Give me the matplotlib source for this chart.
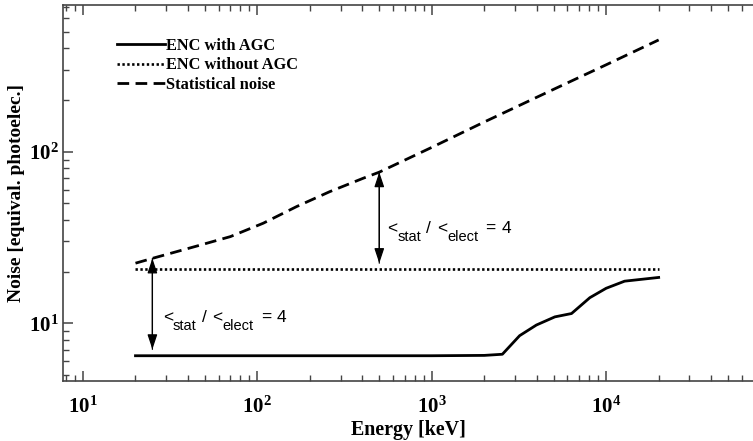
import matplotlib
matplotlib.use("Agg")
import matplotlib.pyplot as plt
from matplotlib.ticker import LogLocator, FixedLocator, FixedFormatter, NullFormatter

plt.rcParams['font.family'] = ['Liberation Serif', 'DejaVu Serif']
plt.rcParams['mathtext.fontset'] = 'custom'
plt.rcParams['mathtext.rm'] = 'Liberation Serif:bold'
plt.rcParams['mathtext.bf'] = 'Liberation Serif:bold'
plt.rcParams['mathtext.it'] = 'Liberation Serif:italic:bold'

# ---- data ----
energy_agc = [20, 100, 1000, 2000, 2540, 3190, 3980, 5080, 6330, 8060, 10000, 12760, 20000]
enc_agc = [6.47, 6.47, 6.47, 6.5, 6.6, 8.47, 9.77, 10.9, 11.4, 14.1, 16.0, 17.6, 18.5]

energy_noagc = [20, 20000]
enc_noagc = [20.7, 20.7]

energy_stat = [20, 25, 45, 70, 108, 168, 260, 404, 500, 1000, 2000, 5000, 10000, 20000]
stat_noise = [22.4, 23.9, 28.2, 32.0, 38.3, 47.9, 58.5, 70.0, 76.0, 106, 149, 231, 321, 448]

arrow_x = [25, 500]
arrow_top = [23.9, 76.0]
arrow_bottom = [7.05, 22.4]
label_pos = [(28.7, 10.2), (556, 33.6)]
# (text, is_subscript)
label_pieces = [('<', False), ('stat', True), ('/', False), ('<', False), ('elect', True), ('=', False), ('4', False)]

xtick_vals = [10, 100, 1000, 10000]
xtick_labels = [r'$\mathrm{10^{1}}$', r'$\mathrm{10^{2}}$', r'$\mathrm{10^{3}}$', r'$\mathrm{10^{4}}$']
ytick_vals = [10, 100]
ytick_labels = [r'$\mathrm{10^{1}}$', r'$\mathrm{10^{2}}$']

fig = plt.figure(figsize=(7.53, 4.41), dpi=100)
ax = fig.add_axes([63/753, 1-381/441, 1-63/753, (381-5)/441])
ax.set_xscale('log')
ax.set_yscale('log')
ax.set_xlim(7.68, 69500)
ax.set_ylim(4.61, 716)

ax.plot(energy_agc, enc_agc, color='black', lw=2.0, ls='-', label='ENC with AGC')
ax.plot(energy_noagc, enc_noagc, color='black', lw=1.9, ls=(0, (0.9, 0.95)), label='ENC without AGC')
ax.plot(energy_stat, stat_noise, color='black', lw=2.0, ls=(0, (4.2, 2.3)), label='Statistical noise')

for xa, yt, yb in zip(arrow_x, arrow_top, arrow_bottom):
    ax.annotate('', xy=(xa, yt), xytext=(xa, yb),
                arrowprops=dict(arrowstyle='-|>,head_length=0.9,head_width=0.3',
                                color='black', lw=0.9, shrinkA=0, shrinkB=0))
    ax.annotate('', xy=(xa, yb), xytext=(xa, yt),
                arrowprops=dict(arrowstyle='-|>,head_length=0.9,head_width=0.3',
                                color='black', lw=0.9, shrinkA=0, shrinkB=0))

renderer = fig.canvas.get_renderer()
gaps = [0, 0, 5, 6, 0, 7, 6]
for (lx, ly) in label_pos:
    dx = 0
    for (s, sub), g in zip(label_pieces, gaps):
        dx += g
        t = ax.annotate(s, xy=(lx, ly), xycoords='data', xytext=(dx, -8 if sub else 0),
                        textcoords='offset pixels', fontsize=10.5 if sub else 12.5,
                        family='Liberation Sans', va='baseline', ha='left')
        dx += t.get_window_extent(renderer).width

ax.xaxis.set_major_locator(FixedLocator(xtick_vals))
ax.xaxis.set_major_formatter(FixedFormatter(xtick_labels))
ax.xaxis.set_minor_locator(LogLocator(base=10, subs=range(2, 10), numticks=20))
ax.xaxis.set_minor_formatter(NullFormatter())
ax.yaxis.set_major_locator(FixedLocator(ytick_vals))
ax.yaxis.set_major_formatter(FixedFormatter(ytick_labels))
ax.yaxis.set_minor_locator(LogLocator(base=10, subs=range(2, 10), numticks=20))
ax.yaxis.set_minor_formatter(NullFormatter())

spine_col = '#444444'
for s in ['left', 'bottom', 'top']:
    ax.spines[s].set_color(spine_col)
    ax.spines[s].set_linewidth(1.2)
ax.spines['right'].set_visible(False)
ax.tick_params(axis='both', which='both', direction='in', colors=spine_col, labelcolor='black')
ax.tick_params(axis='x', which='both', top=True, bottom=True)
ax.tick_params(axis='y', which='both', left=True, right=False)
ax.tick_params(which='major', length=7, width=1.1, labelsize=15)
ax.tick_params(axis='x', which='major', pad=11.5)
ax.tick_params(axis='y', which='major', pad=3)
ax.tick_params(which='minor', length=4, width=1.0)

ax.set_xlabel('Energy [keV]', fontsize=14.4, fontweight='bold', labelpad=1)
ax.set_ylabel('Noise [equival. photoelec.]', fontsize=14.0, fontweight='bold', labelpad=3)

leg = ax.legend(loc='upper left', bbox_to_anchor=(54/690, (381-38)/376), frameon=False,
                prop=dict(family='Liberation Serif', weight='bold', size=11.8),
                handlelength=2.9, handletextpad=0.12, labelspacing=0.2,
                borderpad=0, borderaxespad=0)

fig.savefig('out.png', dpi=100)
